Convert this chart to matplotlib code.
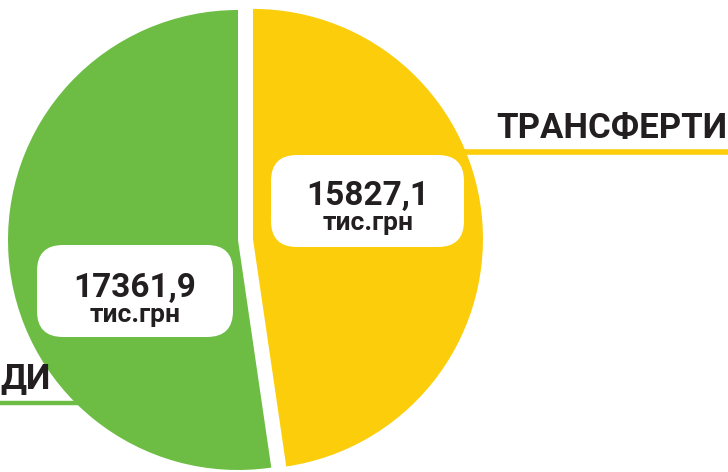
import matplotlib.pyplot as plt
from matplotlib.patches import FancyBboxPatch

# === Data ===
labels = ["ТРАНСФЕРТИ", "ДИ"]
values = [15827.1, 17361.9]
unit = "тис.грн"
colors = ["#FCCD0A", "#6DBD45"]
ink = "#231F20"

plt.rcParams['font.family'] = ['Roboto', 'DejaVu Sans']

W, H = 728, 472
fig = plt.figure(figsize=(W / 100, H / 100), dpi=100)
ax = fig.add_axes([0, 0, 1, 1])

# === Leader lines (behind the pie) ===
ax.plot([440, W], [320, 320], color=colors[0], lw=4, solid_capstyle='butt', zorder=0)
ax.plot([0, 110], [69, 69], color=colors[1], lw=3.2, solid_capstyle='butt', zorder=0)

# === Pie (explode is in data units = pixels here) ===
wedges, _ = ax.pie(values, colors=colors, startangle=90, counterclock=False,
                   center=(238, 232), radius=230, explode=[15, 0],
                   wedgeprops=dict(linewidth=0))
for w in wedges:
    w.set_zorder(1)

# === Value boxes ===
# (x0, y0, width, height) in pixels, number baseline, unit baseline, centre x
boxes = [
    ((271, 225, 193, 92), 267, 242, 368),
    ((37, 135, 196, 92), 175, 150, 135),
]
for (box, y_num, y_unit, xc), v in zip(boxes, values):
    x0, y0, bw, bh = box
    r = 26
    ax.add_patch(FancyBboxPatch((x0 + r, y0 + r), bw - 2 * r, bh - 2 * r,
                                boxstyle=f"round,pad={r}", fc='white', ec='none',
                                zorder=2))
    ax.text(xc, y_num, f"{v:.1f}".replace('.', ','), ha='center', va='baseline',
            fontsize=24, fontweight='bold', color=ink, zorder=3)
    ax.text(xc, y_unit, unit, ha='center', va='baseline',
            fontsize=19, fontweight='bold', color=ink, zorder=3)

# === Outer labels ===
ax.text(727, 334, labels[0], ha='right', va='baseline', fontsize=25,
        fontweight='bold', color=ink)
ax.text(0, 84, labels[1], ha='left', va='baseline', fontsize=25,
        fontweight='bold', color=ink)

ax.set_xlim(0, W)
ax.set_ylim(0, H)
ax.set_aspect('equal')
ax.set_axis_off()

fig.savefig('out.png', dpi=100)
